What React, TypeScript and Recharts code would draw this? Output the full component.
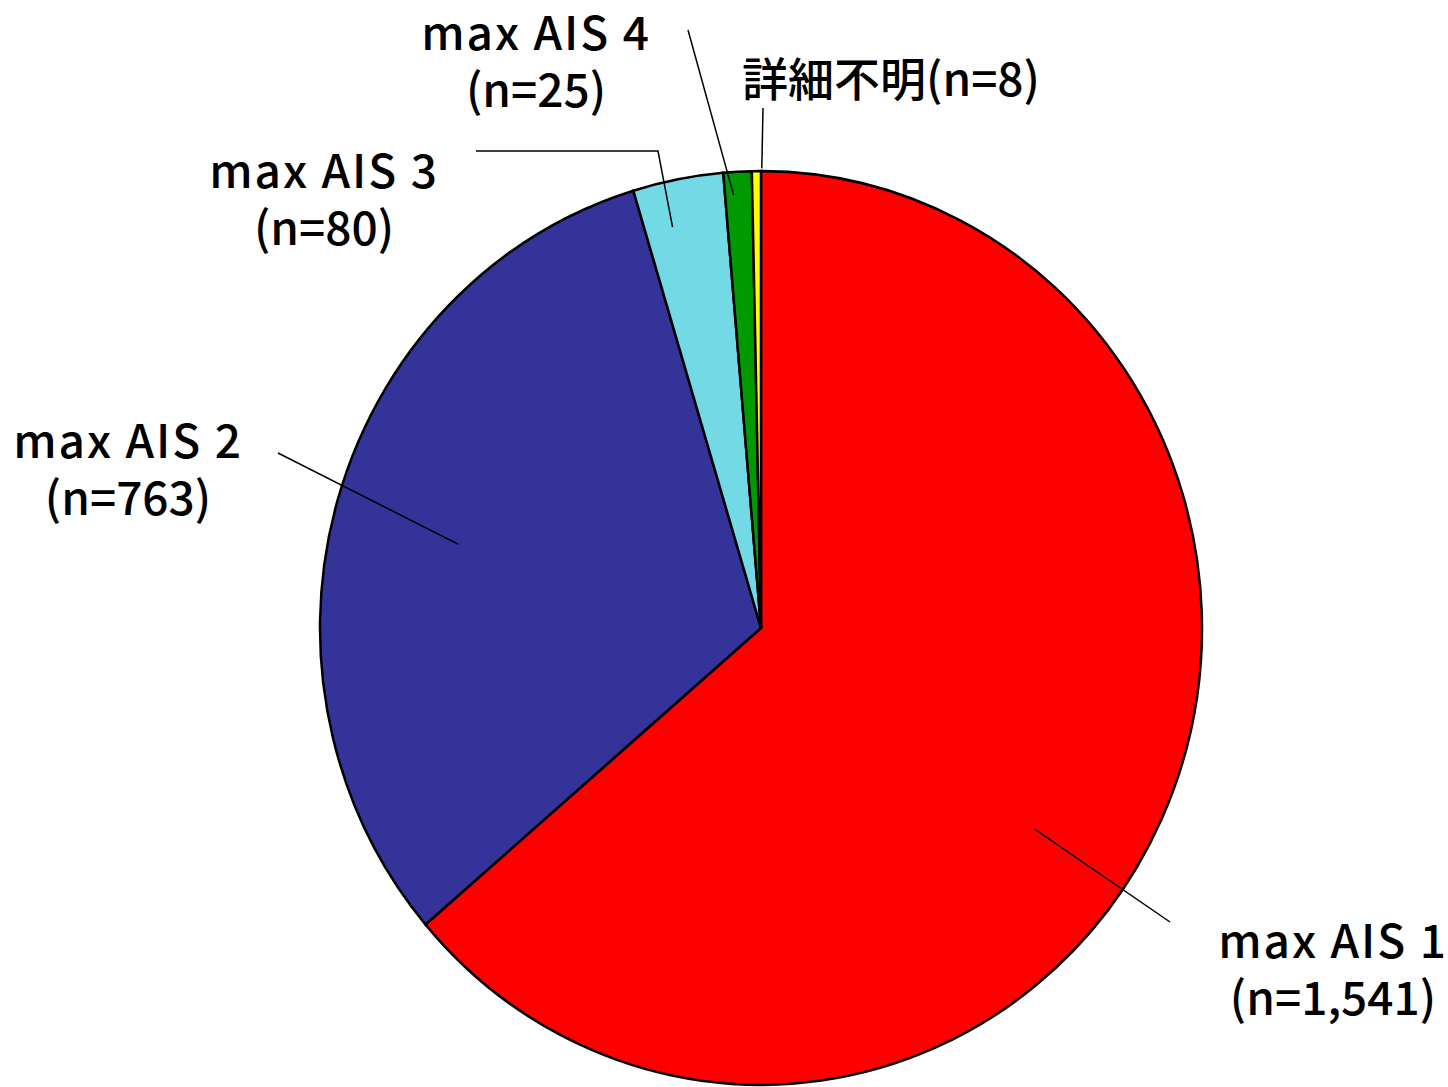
import React from 'react';
import { PieChart, Pie, Cell } from 'recharts';

// data
const categories = ['max AIS 1', 'max AIS 2', 'max AIS 3', 'max AIS 4', '詳細不明'];
const counts = [1541, 763, 80, 25, 8];
const countLabels = ['1,541', '763', '80', '25', '8'];
const sliceColors = ['#ff0000', '#333399', '#72d9e5', '#009900', '#ffff00'];

const data = categories.map((name, i) => ({ name, value: counts[i] }));

// layout
const W = 1448;
const H = 1087;
const CX = 761;
const CY = 628;
const R = 441;
const SY = 1.036; // the original pie is slightly taller than wide
const FONT = '"Noto Sans CJK JP", "Noto Sans", sans-serif';
const LINE_GAP = 57;

// per label: where the leader touches the slice (angle shift, radius fraction),
// leader path points and text centre, all relative to the pie centre
const labelLayout = [
  { shift: -10.6, frac: 0.76, path: [[409, 294]], text: [572, 330], oneLine: false },
  { shift: 1.4, frac: 0.71, path: [[-483, -175]], text: [-633, -170], oneLine: false },
  { shift: 2, frac: 0.9, path: [[-103, -477], [-285, -477]], text: [-437, -440], oneLine: false },
  { shift: 0.7, frac: 0.95, path: [[-73, -598]], text: [-225, -578], oneLine: false },
  { shift: -0.7, frac: 1.006, path: [[2, -520]], text: [130, -532], oneLine: true },
];

const RAD = Math.PI / 180;

const renderLabel = (props: any) => {
  const { cx, cy, midAngle, outerRadius, index } = props;
  const lay = labelLayout[index];
  const a = midAngle + lay.shift;
  const ix = cx + Math.cos(-a * RAD) * outerRadius * lay.frac;
  const iy = cy + Math.sin(-a * RAD) * outerRadius * lay.frac * SY;
  const pts = [[ix, iy], ...lay.path.map(([dx, dy]) => [cx + dx, cy + dy])];
  const d = pts.map((p, i) => `${i === 0 ? 'M' : 'L'}${p[0]},${p[1]}`).join(' ');
  const tx = cx + lay.text[0];
  const ty = cy + lay.text[1];
  const textProps = { textAnchor: 'middle' as const, fontSize: 46, fontWeight: 500, fontFamily: FONT, fill: '#000' };
  return (
    <g key={`lbl-${index}`}>
      <path d={d} stroke="#000" strokeWidth={1.5} fill="none" />
      {lay.oneLine ? (
        <text x={tx} y={ty} {...textProps}>
          {`${categories[index]}(n=${countLabels[index]})`}
        </text>
      ) : (
        <>
          <text x={tx} y={ty} letterSpacing={2} {...textProps}>{categories[index]}</text>
          <text x={tx} y={ty + LINE_GAP} {...textProps}>{`(n=${countLabels[index]})`}</text>
        </>
      )}
    </g>
  );
};

export default function App() {
  return (
    <div style={{ width: W, height: H, background: '#fff', overflow: 'hidden' }}>
      <style>{`
        body { margin: 0; }
        .recharts-pie-sector path {
          transform: scaleY(${SY});
          transform-origin: ${CX}px ${CY}px;
        }
      `}</style>
      <PieChart width={W} height={H} margin={{ top: 0, right: 0, bottom: 0, left: 0 }}>
        <Pie
          data={data}
          dataKey="value"
          nameKey="name"
          cx={CX}
          cy={CY}
          outerRadius={R}
          startAngle={90}
          endAngle={-270}
          stroke="#000"
          strokeWidth={2.5}
          label={renderLabel}
          labelLine={false}
          isAnimationActive={false}
        >
          {data.map((d, i) => (
            <Cell key={d.name} fill={sliceColors[i]} />
          ))}
        </Pie>
      </PieChart>
    </div>
  );
}
